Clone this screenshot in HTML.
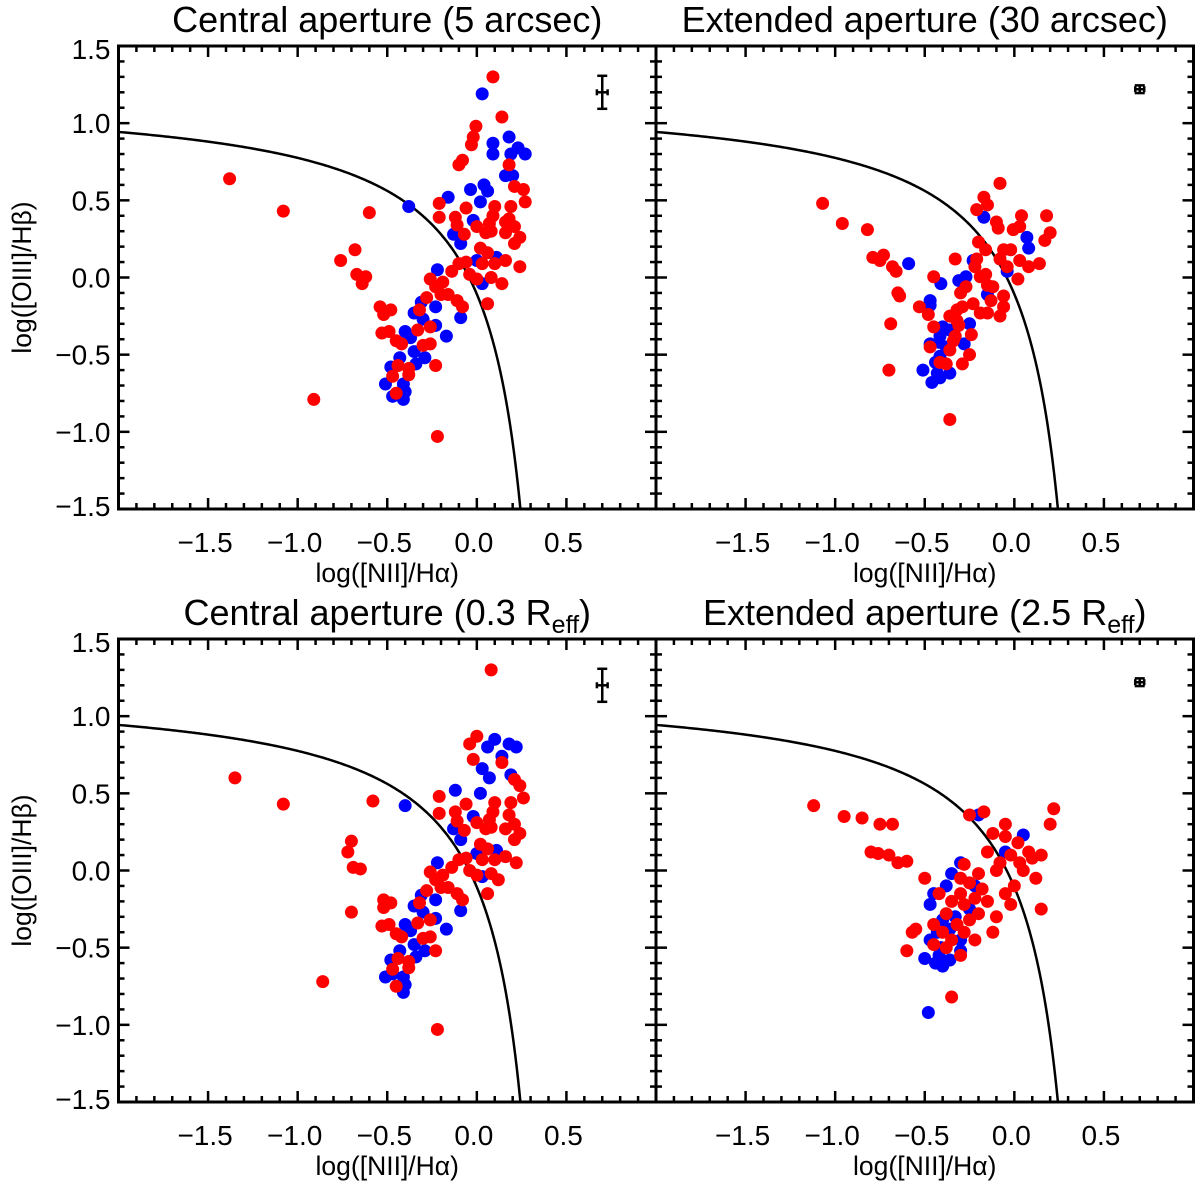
<!DOCTYPE html>
<html><head><meta charset="utf-8"><style>
html,body{margin:0;padding:0;background:#fff;}
svg{display:block;font-family:"Liberation Sans",Arial,sans-serif;}
</style></head><body>
<svg id="chart" width="1200" height="1181" viewBox="0 0 1200 1181" xmlns="http://www.w3.org/2000/svg"></svg>
<script>
const xTicks=[-1.5,-1.0,-0.5,0.0,0.5];
const xTickLabels=["\u22121.5","\u22121.0","\u22120.5","0.0","0.5"];
const yTicks=[1.5,1.0,0.5,0.0,-0.5,-1.0,-1.5];
const yTickLabels=["1.5","1.0","0.5","0.0","\u22120.5","\u22121.0","\u22121.5"];
const panelTitles=["Central aperture (5 arcsec)","Extended aperture (30 arcsec)","Central aperture (0.3 R","Extended aperture (2.5 R"];
const errX=[0.7,0.7,0.7,0.7];
const errY=[1.2,1.22,1.2,1.22];
const errYsize=[0.107,0.025,0.107,0.025];
const errXsize=[0.03,0.025,0.03,0.025];

const tlBlue=[[0.03,1.19],[0.18,0.91],[0.09,0.87],[0.09,0.80],[0.23,0.84],[0.27,0.80],[0.19,0.80],[0.16,0.66],[0.20,0.66],[-0.035,0.57],[0.04,0.60],[0.06,0.56],[0.02,0.49],[-0.16,0.52],[-0.38,0.46],[-0.02,0.37],[-0.13,0.28],[-0.09,0.22],[0.11,0.13],[0.0,0.11],[0.03,-0.04],[-0.22,0.05],[-0.09,-0.26],[-0.23,-0.19],[-0.31,-0.16],[-0.35,-0.23],[-0.3,-0.27],[-0.23,-0.31],[-0.17,-0.38],[-0.40,-0.35],[-0.37,-0.39],[-0.35,-0.48],[-0.29,-0.52],[-0.43,-0.52],[-0.48,-0.58],[-0.34,-0.56],[-0.51,-0.69],[-0.41,-0.69],[-0.40,-0.74],[-0.47,-0.77],[-0.41,-0.79]];
const tlRed=[[0.09,1.30],[0.14,1.04],[-0.005,0.98],[-0.02,0.91],[-0.03,0.86],[-0.08,0.76],[-0.10,0.73],[0.18,0.73],[0.21,0.59],[0.26,0.57],[-0.21,0.48],[0.27,0.49],[0.19,0.46],[0.10,0.46],[-0.06,0.45],[-0.60,0.42],[-0.21,0.39],[-0.12,0.39],[-0.11,0.34],[0.0,0.33],[0.07,0.35],[0.09,0.40],[0.18,0.38],[0.21,0.33],[-0.07,0.28],[0.05,0.29],[0.08,0.30],[0.16,0.29],[0.24,0.26],[0.21,0.22],[0.16,0.36],[0.02,0.19],[0.06,0.16],[0.16,0.11],[0.24,0.07],[0.10,0.09],[0.03,0.09],[-0.06,0.10],[-0.10,0.09],[-0.14,0.04],[-0.04,0.02],[0.0,-0.01],[0.08,0.0],[0.14,-0.04],[0.06,-0.17],[-0.68,0.18],[-0.76,0.11],[-0.67,0.02],[-0.62,0.005],[-0.64,-0.04],[-0.26,-0.01],[-0.23,-0.06],[-0.19,-0.03],[-0.2,-0.11],[-0.16,-0.11],[-0.11,-0.15],[-0.08,-0.19],[-0.28,-0.13],[-0.32,-0.21],[-0.54,-0.19],[-0.52,-0.24],[-0.48,-0.21],[-0.26,-0.32],[-0.33,-0.34],[-0.53,-0.36],[-0.49,-0.35],[-0.45,-0.41],[-0.42,-0.43],[-0.30,-0.44],[-0.26,-0.43],[-0.23,-0.57],[-0.44,-0.57],[-0.38,-0.59],[-0.38,-0.63],[-0.47,-0.64],[-0.45,-0.75],[-1.38,0.64],[-1.08,0.43],[-0.91,-0.79],[-0.22,-1.03]];

const trBlue=[[-0.17,0.39],[0.07,0.26],[0.08,0.19],[-0.59,0.09],[-0.23,0.11],[-0.04,0.04],[-0.41,-0.04],[-0.31,-0.02],[-0.27,0.005],[-0.15,-0.11],[-0.47,-0.15],[-0.47,-0.18],[-0.25,-0.30],[-0.40,-0.32],[-0.36,-0.34],[-0.415,-0.38],[-0.47,-0.43],[-0.28,-0.43],[-0.415,-0.51],[-0.51,-0.60],[-0.46,-0.68],[-0.415,-0.65],[-0.36,-0.62],[-0.38,-0.45],[-0.42,-0.42],[-0.35,-0.25],[-0.44,-0.55],[-0.43,-0.62]];
const trRed=[[-0.08,0.61],[-0.17,0.52],[-0.15,0.47],[-0.21,0.44],[-0.10,0.36],[-0.09,0.32],[0.04,0.40],[0.18,0.40],[0.20,0.29],[0.17,0.24],[0.03,0.33],[-0.006,0.31],[-0.96,0.35],[-0.82,0.31],[-0.79,0.13],[-0.73,0.145],[-0.75,0.11],[-0.68,0.07],[-0.66,0.04],[-0.33,0.12],[-0.20,0.23],[-0.16,0.18],[-0.21,0.12],[-0.22,0.07],[-0.06,0.18],[-0.02,0.18],[-0.08,0.12],[-0.04,0.07],[0.03,0.11],[0.08,0.07],[0.14,0.09],[0.02,-0.01],[-0.45,0.005],[-0.19,0.005],[-0.16,0.02],[-0.15,-0.05],[-0.12,-0.06],[-0.27,-0.06],[-0.30,-0.10],[-0.06,-0.12],[-0.13,-0.15],[-0.06,-0.19],[-0.08,-0.25],[-0.65,-0.10],[-0.64,-0.12],[-0.53,-0.19],[-0.48,-0.24],[-0.32,-0.21],[-0.29,-0.19],[-0.23,-0.17],[-0.19,-0.23],[-0.15,-0.23],[-0.36,-0.25],[-0.45,-0.32],[-0.31,-0.31],[-0.24,-0.37],[-0.47,-0.45],[-0.34,-0.41],[-0.36,-0.47],[-0.25,-0.50],[-0.415,-0.55],[-0.38,-0.56],[-0.29,-0.56],[-0.69,-0.30],[-0.70,-0.60],[-0.36,-0.92],[-0.32,-0.28],[-0.33,-0.38],[-1.07,0.48]];

const blBlue=[[0.10,0.85],[0.18,0.82],[0.06,0.80],[0.22,0.80],[0.14,0.74],[0.19,0.62],[0.03,0.66],[0.07,0.60],[0.02,0.50],[-0.12,0.52],[-0.40,0.42],[-0.02,0.35],[-0.13,0.27],[-0.09,0.20],[0.11,0.13],[0.0,0.11],[0.03,-0.04],[-0.22,0.05],[-0.09,-0.26],[-0.23,-0.19],[-0.31,-0.16],[-0.35,-0.23],[-0.3,-0.27],[-0.23,-0.31],[-0.17,-0.38],[-0.40,-0.35],[-0.37,-0.39],[-0.35,-0.48],[-0.29,-0.52],[-0.43,-0.52],[-0.48,-0.58],[-0.34,-0.56],[-0.51,-0.69],[-0.41,-0.69],[-0.40,-0.74],[-0.47,-0.67],[-0.41,-0.79]];
const blRed=[[0.08,1.30],[0.0,0.87],[-0.04,0.82],[-0.02,0.72],[0.14,0.70],[0.21,0.59],[0.24,0.55],[-0.21,0.48],[0.26,0.47],[0.19,0.44],[0.10,0.44],[-0.06,0.43],[-0.58,0.45],[-0.21,0.37],[-0.12,0.38],[-0.11,0.32],[0.0,0.31],[0.07,0.33],[0.09,0.38],[0.18,0.36],[0.21,0.30],[-0.07,0.26],[0.05,0.27],[0.08,0.28],[0.16,0.27],[0.24,0.24],[0.21,0.20],[0.02,0.17],[0.06,0.14],[0.16,0.09],[0.22,0.05],[0.10,0.07],[0.03,0.07],[-0.06,0.08],[-0.10,0.07],[-0.14,0.02],[-0.04,0.0],[0.0,-0.03],[0.08,-0.02],[0.12,-0.06],[0.06,-0.15],[-0.70,0.19],[-0.72,0.12],[-0.69,0.02],[-0.65,0.01],[-0.70,-0.27],[-0.26,-0.01],[-0.23,-0.06],[-0.19,-0.03],[-0.2,-0.11],[-0.16,-0.11],[-0.11,-0.15],[-0.08,-0.19],[-0.28,-0.13],[-0.32,-0.21],[-0.52,-0.19],[-0.52,-0.24],[-0.48,-0.21],[-0.26,-0.32],[-0.33,-0.34],[-0.53,-0.36],[-0.49,-0.35],[-0.45,-0.41],[-0.42,-0.43],[-0.30,-0.44],[-0.26,-0.43],[-0.23,-0.52],[-0.44,-0.57],[-0.38,-0.59],[-0.38,-0.63],[-0.47,-0.64],[-0.45,-0.75],[-1.35,0.60],[-1.08,0.43],[-0.86,-0.72],[-0.22,-1.03]];

const brBlue=[[-0.20,0.36],[0.05,0.23],[-0.05,0.12],[-0.30,0.05],[-0.35,-0.02],[-0.38,-0.10],[-0.45,-0.15],[-0.47,-0.22],[-0.33,-0.30],[-0.40,-0.32],[-0.36,-0.38],[-0.43,-0.40],[-0.47,-0.45],[-0.30,-0.45],[-0.41,-0.50],[-0.50,-0.57],[-0.44,-0.60],[-0.40,-0.62],[-0.36,-0.58],[-0.42,-0.55],[-0.30,-0.52],[-0.48,-0.92],[-0.25,-0.25],[-0.22,-0.10]];
const brRed=[[-1.12,0.42],[-0.95,0.35],[-0.85,0.34],[-0.75,0.30],[-0.68,0.30],[-0.80,0.12],[-0.76,0.11],[-0.70,0.10],[-0.65,0.05],[-0.60,0.06],[-0.25,0.36],[-0.17,0.38],[-0.12,0.24],[-0.05,0.22],[0.02,0.18],[0.08,0.12],[0.22,0.40],[0.20,0.30],[0.15,0.10],[0.10,0.08],[0.03,0.05],[-0.02,0.10],[-0.08,0.05],[-0.15,0.12],[-0.10,0.00],[0.05,0.00],[0.12,-0.05],[0.00,-0.10],[-0.05,-0.15],[0.15,-0.25],[-0.20,-0.02],[-0.28,0.04],[-0.30,-0.05],[-0.25,-0.08],[-0.18,-0.12],[-0.15,-0.20],[-0.22,-0.18],[-0.30,-0.15],[-0.28,-0.22],[-0.35,-0.20],[-0.20,-0.28],[-0.25,-0.32],[-0.32,-0.35],[-0.38,-0.28],[-0.28,-0.40],[-0.35,-0.45],[-0.40,-0.40],[-0.45,-0.35],[-0.22,-0.45],[-0.30,-0.55],[-0.38,-0.50],[-0.45,-0.48],[-0.55,-0.38],[-0.60,-0.52],[-0.57,-0.40],[-0.35,-0.82],[-0.42,-0.15],[-0.50,-0.05],[-0.10,-0.30],[-0.02,-0.22],[-0.12,-0.40],[-0.05,0.30]];

const panelBlue=[tlBlue,trBlue,blBlue,brBlue];
const panelRed=[tlRed,trRed,blRed,brRed];

const svg=document.getElementById('chart');
const NS='http://www.w3.org/2000/svg';
function mk(tag,attrs,parent){const e=document.createElementNS(NS,tag);for(const k in attrs)e.setAttribute(k,attrs[k]);(parent||svg).appendChild(e);return e;}

const L=[118.5,656],R=[656,1193.5],T=[46,639],B=[509,1102];
const panels=[[0,0],[1,0],[0,1],[1,1]];
panels.forEach((p,i)=>{
  const x0=L[p[0]], x1=R[p[0]], y0=T[p[1]], y1=B[p[1]];
  const sx=v=>x0+(v+2)/3*(x1-x0);
  const sy=v=>y0+(1.5-v)/3*(y1-y0);
  const g=mk('g',{});
  
  
  let d='';
  const xEnd=0.47+0.61/(-1.5-1.19);
  for(let k=0;k<=300;k++){const xv=-2+(xEnd+2)*k/300;const yv=0.61/(xv-0.47)+1.19;d+=(k?'L':'M')+sx(xv).toFixed(2)+' '+sy(yv).toFixed(2);}
  const cv=mk('path',{d:d,fill:'none',stroke:'#000','stroke-width':2.5},g);
  
  
  panelBlue[i].forEach(pt=>{const c=mk('circle',{cx:sx(pt[0]),cy:sy(pt[1]),r:6.5,fill:'#0000ff'},g);
    
    });
  panelRed[i].forEach(pt=>{const c=mk('circle',{cx:sx(pt[0]),cy:sy(pt[1]),r:6.5,fill:'#ff0000'},g);
    
    });
  const eb=mk('g',{stroke:'#000','stroke-width':2.5},g);
  
  
  const ex=sx(errX[i]),eyT=sy(errY[i]+errYsize[i]),eyB=sy(errY[i]-errYsize[i]),ey=sy(errY[i]);
  const exL=sx(errX[i]-errXsize[i]),exR=sx(errX[i]+errXsize[i]);
  mk('line',{x1:ex,y1:eyT,x2:ex,y2:eyB},eb);
  mk('line',{x1:exL,y1:ey,x2:exR,y2:ey},eb);
  mk('line',{x1:ex-5,y1:eyT,x2:ex+5,y2:eyT},eb);
  mk('line',{x1:ex-5,y1:eyB,x2:ex+5,y2:eyB},eb);
  mk('line',{x1:exL,y1:ey-3,x2:exL,y2:ey+3},eb);
  mk('line',{x1:exR,y1:ey-3,x2:exR,y2:ey+3},eb);
  const fr=mk('rect',{x:x0,y:y0,width:x1-x0,height:y1-y0,fill:'none',stroke:'#000','stroke-width':3},g);
  
  
  const tk=mk('g',{stroke:'#000','stroke-width':2.5},g);
  for(let k=-19;k<=9;k++){const v=k/10;const X=sx(v);const major=(k%5===0);const len=major?11:6;
    mk('line',{x1:X,y1:y1,x2:X,y2:y1-len},tk);mk('line',{x1:X,y1:y0,x2:X,y2:y0+len},tk);}
  for(let k=-14;k<=14;k++){const v=k/10;const Y=sy(v);const major=(k%5===0);const len=major?11:6;
    mk('line',{x1:x0,y1:Y,x2:x0+len,y2:Y},tk);mk('line',{x1:x1,y1:Y,x2:x1-len,y2:Y},tk);}
  xTicks.forEach((v,j)=>{const t=mk('text',{x:sx(v)-3,y:y1+43,'font-size':28,'text-anchor':'middle',fill:'#000'},g);t.textContent=xTickLabels[j];
    
    });
  const xl=mk('text',{x:(x0+x1)/2,y:y1+73,'font-size':26.5,'text-anchor':'middle',fill:'#000'},g);
  xl.textContent='log([NII]/H\u03b1)';
  
  
  if(p[0]===0){
    yTicks.forEach((v,j)=>{const t=mk('text',{x:x0-8,y:sy(v)+10+(j===0?3:0)+(j===6?-3:0),'font-size':28,'text-anchor':'end',fill:'#000'},g);t.textContent=yTickLabels[j];
      
      });
    const yl=mk('text',{x:0,y:0,'font-size':26.5,'text-anchor':'middle',fill:'#000',transform:'translate(31,'+((y0+y1)/2)+') rotate(-90)'},g);
    yl.textContent='log([OIII]/H\u03b2)';
    
    
  }
  const tt=mk('text',{x:(x0+x1)/2,y:y0-14,'font-size':36,'text-anchor':'middle',fill:'#000'},g);
  
  
  if(i<2){tt.textContent=panelTitles[i];}
  else{tt.textContent=panelTitles[i];const s=mk('tspan',{'font-size':25,dy:8},tt);s.textContent='eff';const s2=mk('tspan',{dy:-8},tt);s2.textContent=')';}
});
</script>
</body></html>
